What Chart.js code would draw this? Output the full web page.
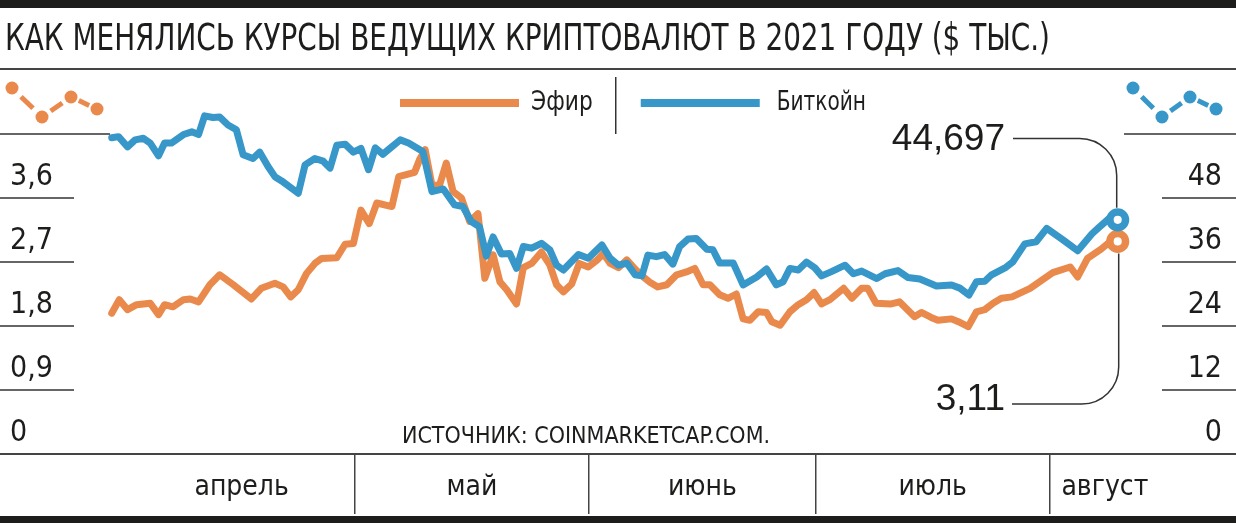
<!DOCTYPE html>
<html>
<head>
<meta charset="utf-8">
<script src="https://cdn.jsdelivr.net/npm/chart.js@4.4.1/dist/chart.umd.min.js"></script>
<style>
  html, body { margin: 0; padding: 0; background: #fff; }
</style>
</head>
<body>
<canvas id="chart" width="1236" height="523"></canvas>
<script>
// days are counted from 1 April 2021, values: ETH and BTC in $ thousand
const btcDays = [-2.2, -1.3, -0.1, 0.9, 2.0, 2.9, 4.0, 4.8, 5.7, 7.3, 8.4, 9.3, 10.1, 11.2, 12.1, 13.2, 14.3, 15.2, 16.5, 17.4,
  18.5, 19.4, 20.3, 22.5, 23.4, 24.7, 25.8, 26.7, 27.6, 28.7, 29.8, 30.8, 31.8, 32.7, 33.7, 34.9, 36.0, 37.1, 39.0, 40.2,
  41.7, 43.2, 44.3, 45.4, 46.5, 47.4, 48.3, 49.4, 50.5, 51.4, 52.3, 53.4, 54.7, 55.8, 56.7, 57.6, 59.6, 60.9, 62.7, 63.8,
  64.9, 66.0, 67.1, 68.0, 68.8, 69.9, 71.0, 72.1, 73.0, 74.1, 75.2, 76.6, 77.4, 78.3, 80.1, 81.4, 83.2, 84.5, 85.8, 86.7,
  87.6, 88.7, 89.8, 90.9, 91.8, 93.1, 94.9, 96.0, 97.1, 99.1, 100.2, 101.9, 103.2, 104.8, 107.0, 109.0, 110.1, 111.3, 112.3, 113.4,
  114.3, 116.2, 117.1, 118.7, 120.2, 121.6, 123.8, 125.7, 127.6, 128.6, 129.9, 131.0];
const btcValues = [59.3, 59.5, 57.6, 58.9, 59.2, 58.3, 55.9, 58.3, 58.3, 59.9, 60.4, 59.9, 63.4, 63.1, 63.2, 61.7, 60.8, 56.1, 55.4, 56.6,
  53.9, 52.0, 51.2, 48.9, 54.2, 55.4, 54.9, 53.6, 57.9, 58.1, 56.6, 57.3, 53.3, 57.4, 56.2, 57.6, 58.9, 58.3, 56.7, 49.2,
  49.7, 46.7, 46.4, 43.6, 42.6, 37.1, 40.7, 37.5, 37.6, 34.8, 38.9, 38.6, 39.5, 38.3, 35.4, 34.5, 37.4, 36.7, 39.2, 36.7,
  35.4, 35.8, 33.6, 33.4, 37.3, 37.0, 37.4, 35.6, 38.9, 40.3, 40.4, 38.4, 38.3, 35.8, 35.8, 31.7, 33.2, 34.7, 31.7, 32.3,
  34.8, 34.5, 36.0, 34.9, 33.4, 34.2, 35.4, 33.8, 34.3, 32.9, 33.8, 34.4, 33.1, 32.8, 31.5, 31.7, 31.1, 29.8, 32.3, 32.4,
  33.6, 35.0, 36.0, 39.4, 39.8, 42.3, 40.1, 38.1, 41.3, 42.6, 44.2, 43.9];

const ethDays = [-2.2, -1.2, -0.1, 1.1, 2.9, 4.0, 4.8, 5.9, 7.3, 8.2, 9.3, 10.8, 12.1, 13.9, 16.3, 17.6, 19.4, 20.5, 21.5, 22.5,
  23.6, 24.7, 25.6, 27.6, 28.7, 29.8, 30.8, 31.9, 32.9, 34.9, 35.8, 37.9, 38.6, 39.3, 40.2, 41.2, 42.1, 43.0, 44.1, 45.2,
  46.3, 47.2, 48.3, 49.2, 50.1, 51.4, 52.3, 53.4, 54.7, 55.8, 56.7, 57.6, 58.7, 59.7, 60.9, 62.0, 62.9, 63.8, 64.9, 66.0,
  67.1, 68.2, 69.0, 70.1, 71.3, 72.6, 73.9, 75.0, 76.1, 77.0, 78.3, 79.4, 80.5, 81.4, 82.3, 83.4, 84.5, 85.2, 86.3, 87.6,
  88.7, 89.8, 90.8, 91.8, 92.9, 94.7, 95.8, 97.1, 97.9, 99.0, 101.0, 102.1, 104.1, 105.0, 106.3, 107.2, 109.0, 109.9, 111.2, 112.3,
  113.4, 114.5, 115.6, 117.0, 119.4, 122.4, 124.7, 125.7, 127.0, 128.8, 129.8, 131.0];
const ethValues = [1.98, 2.17, 2.03, 2.10, 2.12, 1.96, 2.10, 2.07, 2.17, 2.18, 2.14, 2.38, 2.52, 2.38, 2.18, 2.33, 2.40, 2.35, 2.21, 2.31,
  2.54, 2.68, 2.75, 2.76, 2.95, 2.96, 3.43, 3.24, 3.53, 3.48, 3.90, 3.96, 4.15, 4.28, 3.78, 3.78, 4.09, 3.69, 3.60, 3.27,
  3.38, 2.47, 2.80, 2.42, 2.31, 2.11, 2.62, 2.68, 2.84, 2.66, 2.38, 2.28, 2.39, 2.68, 2.63, 2.72, 2.82, 2.68, 2.62, 2.73,
  2.60, 2.49, 2.42, 2.35, 2.38, 2.52, 2.56, 2.61, 2.38, 2.38, 2.24, 2.19, 2.25, 1.90, 1.88, 2.00, 1.99, 1.86, 1.81, 2.00,
  2.10, 2.17, 2.27, 2.11, 2.17, 2.33, 2.19, 2.33, 2.33, 2.12, 2.11, 2.14, 1.93, 1.99, 1.92, 1.88, 1.90, 1.86, 1.79, 2.00,
  2.03, 2.12, 2.19, 2.21, 2.33, 2.55, 2.63, 2.49, 2.75, 2.88, 2.97, 2.99];

const ethTicks = [0, 0.9, 1.8, 2.7, 3.6, 4.5];
const btcTicks = [0, 12, 24, 36, 48, 60];
const monthNames = ['апрель', 'май', 'июнь', 'июль', 'август'];
const monthStarts = [0, 30, 61, 91, 122];
const xMin = -6.4;
const xMax = 136.6;
const lastLabels = { eth: '3,11', btc: '44,697' };

const titleText = 'КАК МЕНЯЛИСЬ КУРСЫ ВЕДУЩИХ КРИПТОВАЛЮТ В 2021 ГОДУ ($ ТЫС.)';
const sourceText = 'ИСТОЧНИК: COINMARKETCAP.COM.';

const FONT = '"DejaVu Sans Condensed", "Liberation Sans Narrow", sans-serif';
const FONT_WIDE = '"Liberation Sans", Arial, sans-serif';
const INK = '#1d1d1b';
const ORANGE = '#E98A4C';
const BLUE = '#3897C9';

// month separators and month label positions (middle of each month)
const separators = monthStarts.slice(1);
const monthMids = monthStarts.map((s, i) => (s + (i < monthStarts.length - 1 ? monthStarts[i + 1] : xMax)) / 2);
const xTicks = separators.concat(monthMids);
const xTickLabels = separators.map(() => '').concat(monthNames);

const points = (days, values) => days.map((d, i) => ({ x: d, y: values[i] }));
const lastOnly = (r) => (ctx) => ctx.dataIndex === ctx.dataset.data.length - 1 ? r : 0;
const fmt = (v) => String(v).replace('.', ',');

// text squeezed horizontally (the original uses a condensed face)
function squeezed(ctx, text, x, y, k) {
  ctx.save();
  ctx.translate(x, y);
  ctx.scale(k, 1);
  ctx.fillText(text, 0, 0);
  ctx.restore();
  return ctx.measureText(text).width * k;
}

function drawIcon(ctx, dots, color) {
  ctx.fillStyle = color;
  ctx.strokeStyle = color;
  ctx.lineWidth = 5;
  for (let i = 0; i < dots.length - 1; i++) {
    const [x1, y1] = dots[i], [x2, y2] = dots[i + 1];
    ctx.beginPath();
    ctx.moveTo(x1 + (x2 - x1) * 0.3, y1 + (y2 - y1) * 0.3);
    ctx.lineTo(x1 + (x2 - x1) * 0.7, y1 + (y2 - y1) * 0.7);
    ctx.stroke();
  }
  dots.forEach(([x, y]) => {
    ctx.beginPath();
    ctx.arc(x, y, 6.5, 0, Math.PI * 2);
    ctx.fill();
  });
}

const decor = {
  id: 'decor',
  beforeDraw(chart) {
    const ctx = chart.ctx;
    ctx.save();
    ctx.fillStyle = '#fff';
    ctx.fillRect(0, 0, chart.width, chart.height);
    ctx.restore();
  },
  afterDraw(chart) {
    const { ctx, chartArea: a, scales } = chart;
    const W = chart.width, H = chart.height;
    ctx.save();

    // top and bottom bars, rule under the title
    ctx.fillStyle = INK;
    ctx.fillRect(0, 0, W, 8);
    ctx.fillRect(0, H - 7, W, 7);
    ctx.fillStyle = '#444';
    ctx.fillRect(0, 68, W, 2);

    ctx.fillStyle = INK;
    ctx.font = '37px ' + FONT;
    ctx.textAlign = 'left';
    ctx.textBaseline = 'alphabetic';
    squeezed(ctx, titleText, 5, 50, 1045 / ctx.measureText(titleText).width);

    // short rules at the value ticks
    ctx.strokeStyle = '#333';
    ctx.lineWidth = 1.5;
    scales.yEth.ticks.forEach((t, i, arr) => {
      if (t.value === 0) return;
      const y = scales.yEth.getPixelForValue(t.value);
      ctx.beginPath();
      ctx.moveTo(0, y);
      ctx.lineTo(i === arr.length - 1 ? 110 : 74, y);
      ctx.stroke();
    });
    scales.yBtc.ticks.forEach((t, i, arr) => {
      if (t.value === 0) return;
      const y = scales.yBtc.getPixelForValue(t.value);
      ctx.beginPath();
      ctx.moveTo(i === arr.length - 1 ? 1124 : 1162, y);
      ctx.lineTo(W, y);
      ctx.stroke();
    });

    // base line across the full width
    ctx.strokeStyle = '#444';
    ctx.lineWidth = 2;
    ctx.beginPath();
    ctx.moveTo(0, a.bottom);
    ctx.lineTo(W, a.bottom);
    ctx.stroke();

    // legend
    const ds = chart.data.datasets;
    ctx.font = '26px ' + FONT;
    ctx.textBaseline = 'middle';
    let lx = 400;
    const ly = 103;
    ds.forEach((d, i) => {
      if (i > 0) {
        ctx.strokeStyle = '#333';
        ctx.lineWidth = 1.5;
        ctx.beginPath();
        ctx.moveTo(lx + 23, 77);
        ctx.lineTo(lx + 23, 134);
        ctx.stroke();
        lx += 48;
      }
      ctx.fillStyle = d.borderColor;
      ctx.fillRect(lx, ly - 4, 119, 8);
      lx += i > 0 ? 136 : 131;
      ctx.fillStyle = INK;
      lx += squeezed(ctx, d.label, lx, ly, i > 0 ? 0.86 : 0.93);
    });

    drawIcon(ctx, [[12, 88], [42, 117], [71, 97], [97, 109]], ORANGE);
    drawIcon(ctx, [[1133, 88], [1162, 117], [1190, 97], [1216, 109]], BLUE);

    // source
    ctx.fillStyle = INK;
    ctx.font = '23px ' + FONT;
    ctx.textAlign = 'center';
    ctx.textBaseline = 'alphabetic';
    ctx.fillText(sourceText, 586, 443);

    // callouts for the last values
    const r = 37;
    const btcPt = chart.getDatasetMeta(1).data.at(-1);
    const ethPt = chart.getDatasetMeta(0).data.at(-1);
    ctx.strokeStyle = '#333';
    ctx.lineWidth = 1.5;
    let vx = btcPt.x - 1, hy = 138.5;
    ctx.beginPath();
    ctx.moveTo(1013, hy);
    ctx.arcTo(vx, hy, vx, hy + r, r);
    ctx.lineTo(vx, btcPt.y - 12);
    ctx.stroke();
    vx = ethPt.x + 1; hy = 404;
    ctx.beginPath();
    ctx.moveTo(1012, hy);
    ctx.arcTo(vx, hy, vx, hy - r, r);
    ctx.lineTo(vx, ethPt.y + 12);
    ctx.stroke();

    ctx.fillStyle = INK;
    ctx.font = '37px ' + FONT_WIDE;
    ctx.textAlign = 'right';
    ctx.textBaseline = 'middle';
    ctx.fillText(lastLabels.btc, 1005, 140);
    ctx.fillText(lastLabels.eth, 1005, 400);

    ctx.restore();
  }
};

new Chart(document.getElementById('chart'), {
  type: 'line',
  data: {
    datasets: [
      {
        label: 'Эфир',
        data: points(ethDays, ethValues),
        yAxisID: 'yEth',
        borderColor: ORANGE,
        borderWidth: 7,
        borderJoinStyle: 'round',
        borderCapStyle: 'round',
        pointRadius: lastOnly(7.8),
        pointBorderWidth: 7.5,
        pointBackgroundColor: '#fff',
        pointBorderColor: ORANGE,
        clip: false,
        order: 2,
      },
      {
        label: 'Биткойн',
        data: points(btcDays, btcValues),
        yAxisID: 'yBtc',
        borderColor: BLUE,
        borderWidth: 7,
        borderJoinStyle: 'round',
        borderCapStyle: 'round',
        pointRadius: lastOnly(7.8),
        pointBorderWidth: 7.5,
        pointBackgroundColor: '#fff',
        pointBorderColor: BLUE,
        clip: false,
        order: 1,
      },
    ],
  },
  options: {
    responsive: false,
    animation: false,
    events: [],
    layout: { padding: { top: 134, left: 10, right: 14, bottom: 0 } },
    plugins: {
      legend: { display: false },
      tooltip: { enabled: false },
    },
    scales: {
      x: {
        type: 'linear',
        min: xMin,
        max: xMax,
        afterBuildTicks: (s) => { s.ticks = xTicks.map(v => ({ value: v })); },
        afterFit: (s) => { s.height = 69; },
        border: { display: false },
        grid: {
          drawOnChartArea: false,
          tickLength: 60,
          lineWidth: 1.5,
          color: (c) => (c.tick && separators.includes(c.tick.value)) ? '#444' : 'rgba(0,0,0,0)',
        },
        ticks: {
          autoSkip: false,
          maxRotation: 0,
          padding: -43,
          color: INK,
          font: { family: FONT, size: 28 },
          callback: (v, i) => xTickLabels[i],
        },
      },
      yEth: {
        position: 'left',
        min: 0,
        max: 4.5,
        afterBuildTicks: (s) => { s.ticks = ethTicks.map(v => ({ value: v })); },
        afterFit: (s) => { s.width = 70; },
        border: { display: false },
        grid: { display: false },
        ticks: {
          autoSkip: false,
          crossAlign: 'far',
          labelOffset: -21,
          color: INK,
          font: { family: FONT, size: 30 },
          callback: (v) => v === ethTicks[ethTicks.length - 1] ? '' : fmt(v),
        },
      },
      yBtc: {
        position: 'right',
        min: 0,
        max: 60,
        afterBuildTicks: (s) => { s.ticks = btcTicks.map(v => ({ value: v })); },
        afterFit: (s) => { s.width = 62; },
        border: { display: false },
        grid: { display: false },
        ticks: {
          autoSkip: false,
          crossAlign: 'far',
          labelOffset: -21,
          color: INK,
          font: { family: FONT, size: 30 },
          callback: (v) => v === btcTicks[btcTicks.length - 1] ? '' : fmt(v),
        },
      },
    },
  },
  plugins: [decor],
});
</script>
</body>
</html>
